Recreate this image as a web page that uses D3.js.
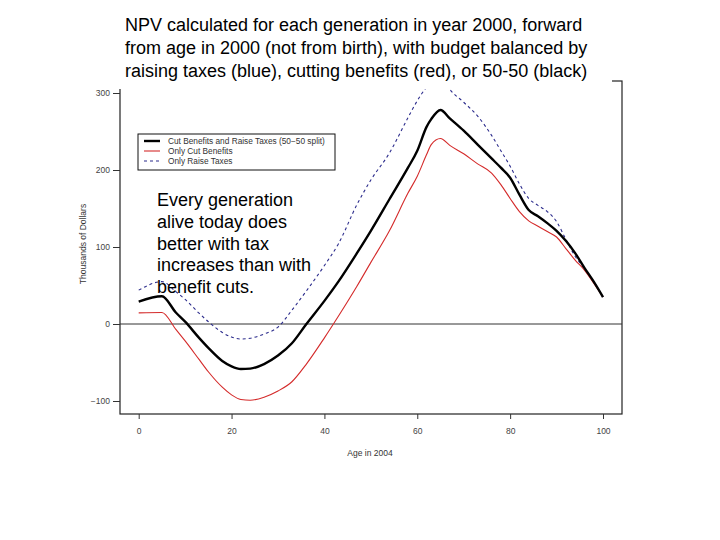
<!DOCTYPE html>
<html>
<head>
<meta charset="utf-8">
<script src="https://cdn.jsdelivr.net/npm/d3@7"></script>
<style>
    body { margin: 0; background: #fff; }
    #chart { width: 720px; height: 540px; }
    text { font-family: "Liberation Sans", Arial, sans-serif; }
</style>
</head>
<body>
<div id="chart"></div>
<script>

    /*
    DATA (thousands of dollars by age in 2004)
    */
    var ages = [0, 5, 8, 10, 13, 15, 18, 20, 22, 24, 27, 30, 33, 36, 40, 43, 47, 50, 54, 58,
        60, 62, 63, 65, 67, 70, 73, 76, 78, 80, 82, 84, 86, 88, 90, 92, 94, 96, 98, 100];

    // 50-50 split (black)
    var splitValues = [29, 36, 15, 3, -18, -31, -48, -55, -58.5, -58, -52, -41, -25, -1, 30, 55, 92, 121, 162, 203,
        225, 256, 266, 278, 267, 251, 233, 215, 203, 190, 168, 148, 140, 131, 121, 108, 92, 73, 55, 35];

    // only cut benefits (red)
    var cutValues = [14.5, 15, -7, -22, -46, -62, -82, -92, -98, -99, -95, -87, -75, -53, -18, 10, 49, 80, 121, 170,
        192, 220, 233, 241, 232, 221, 208, 196, 181, 163, 146, 134, 127, 120, 113, 98, 83, 70, 53, 35];

    // only raise taxes (blue)
    var taxValues = [44, 55, 42, 32, 14, 3, -11, -17, -19.5, -18.5, -13, -4, 18, 42, 76, 104, 155, 187, 222, 268,
        290, 308, 316, 325, 305, 288, 270, 245, 225, 205, 182, 163, 154, 146, 133, 110, 88, 72, 55, 35];

    var xTicks = [0, 20, 40, 60, 80, 100];
    var yTicks = [-100, 0, 100, 200, 300];

    var legendLabels = ["Cut Benefits and Raise Taxes (50\u221250 split)", "Only Cut Benefits", "Only Raise Taxes"];

    var titleLines = [
        "NPV calculated for each generation in year 2000, forward",
        "from age in 2000 (not from birth), with budget balanced by",
        "raising taxes (blue), cutting benefits (red), or 50-50 (black)"
    ];

    var noteLines = ["Every generation", "alive today does", "better with tax", "increases than with", "benefit cuts."];

    /*
    SVG CANVAS
    */
    var width = 720;
    var height = 540;
    var svg = d3.select("#chart")
        .append("svg")
        .attr("width", width)
        .attr("height", height);

    var box = { left: 120, right: 622, top: 81, bottom: 414 };

    /*
    SCALES
    */
    var xScale = d3.scaleLinear().domain([0, 100]).range([138.7, 603]);
    var yScale = d3.scaleLinear().domain([-100, 300]).range([401, 93]);

    var series = [
        { name: legendLabels[0], values: splitValues, color: "#000000", width: 2.4, dash: null },
        { name: legendLabels[1], values: cutValues, color: "#d42a2a", width: 1.1, dash: null },
        { name: legendLabels[2], values: taxValues, color: "#2b2b8c", width: 1.1, dash: "3,3" }
    ];

    // frame
    svg.append("rect")
        .attr("x", box.left)
        .attr("y", box.top)
        .attr("width", box.right - box.left)
        .attr("height", box.bottom - box.top)
        .attr("fill", "none")
        .attr("stroke", "#222")
        .attr("stroke-width", 1.2);

    // zero line
    svg.append("line")
        .attr("x1", box.left)
        .attr("x2", box.right)
        .attr("y1", yScale(0))
        .attr("y2", yScale(0))
        .attr("stroke", "#333")
        .attr("stroke-width", 1);

    /*
    LINES
    */
    var line = d3.line()
        .x(function (d, i) { return xScale(ages[i]); })
        .y(function (d) { return yScale(d); })
        .curve(d3.curveMonotoneX);

    // draw red and blue first, black on top
    [series[2], series[1], series[0]].forEach(function (s) {
        svg.append("path")
            .attr("d", line(s.values))
            .attr("fill", "none")
            .attr("stroke", s.color)
            .attr("stroke-width", s.width)
            .attr("stroke-dasharray", s.dash)
            .attr("stroke-linejoin", "round");
    });

    /*
    AXES
    */
    var xAxis = svg.append("g")
        .attr("class", "axis")
        .attr("transform", `translate(0,${box.bottom})`)
        .call(d3.axisBottom(xScale).tickValues(xTicks).tickSize(5).tickPadding(9));

    var yAxis = svg.append("g")
        .attr("class", "axis")
        .attr("transform", `translate(${box.left},0)`)
        .call(d3.axisLeft(yScale).tickValues(yTicks).tickSize(7).tickPadding(3)
            .tickFormat(function (d) { return d < 0 ? "\u2212" + Math.abs(d) : d; }));

    svg.selectAll(".axis .domain").remove();
    svg.selectAll(".axis line").attr("stroke", "#333");
    svg.selectAll(".axis text")
        .attr("fill", "#444")
        .style("font-size", "8.5px")
        .style("font-family", "'Liberation Sans', Arial, sans-serif");

    svg.append("text")
        .attr("x", 370)
        .attr("y", 456)
        .attr("text-anchor", "middle")
        .attr("fill", "#333")
        .style("font-size", "8.5px")
        .text("Age in 2004");

    svg.append("text")
        .attr("transform", "translate(86,244) rotate(-90)")
        .attr("text-anchor", "middle")
        .attr("fill", "#333")
        .style("font-size", "8.5px")
        .text("Thousands of Dollars");

    /*
    LEGEND
    */
    var legend = svg.append("g").attr("transform", "translate(138,134)");
    legend.append("rect")
        .attr("width", 197)
        .attr("height", 36)
        .attr("fill", "#fff")
        .attr("stroke", "#111")
        .attr("stroke-width", 1);

    var rows = legend.selectAll(".row")
        .data(series)
        .join("g")
        .attr("transform", function (d, i) { return `translate(0,${7 + i * 10})`; });

    rows.append("line")
        .attr("x1", 6)
        .attr("x2", 22)
        .attr("stroke", function (d) { return d.color; })
        .attr("stroke-width", function (d) { return d.width; })
        .attr("stroke-dasharray", function (d) { return d.dash; });

    rows.append("text")
        .attr("x", 30)
        .attr("dy", "0.35em")
        .attr("fill", "#333")
        .style("font-size", "8.3px")
        .text(function (d) { return d.name; });

    /*
    TITLE (sits on a white block that hides the top of the frame)
    */
    svg.append("rect")
        .attr("x", 100)
        .attr("y", 0)
        .attr("width", 512)
        .attr("height", 89)
        .attr("fill", "#fff");

    svg.selectAll(".title")
        .data(titleLines)
        .join("text")
        .attr("class", "title")
        .attr("x", 125)
        .attr("y", function (d, i) { return 31 + i * 23; })
        .attr("fill", "#000")
        .style("font-size", "18px")
        .text(function (d) { return d; });

    /*
    NOTE
    */
    svg.selectAll(".note")
        .data(noteLines)
        .join("text")
        .attr("class", "note")
        .attr("x", 157)
        .attr("y", function (d, i) { return 206 + i * 21.8; })
        .attr("fill", "#000")
        .style("font-size", "18px")
        .text(function (d) { return d; });

</script>
</body>
</html>
